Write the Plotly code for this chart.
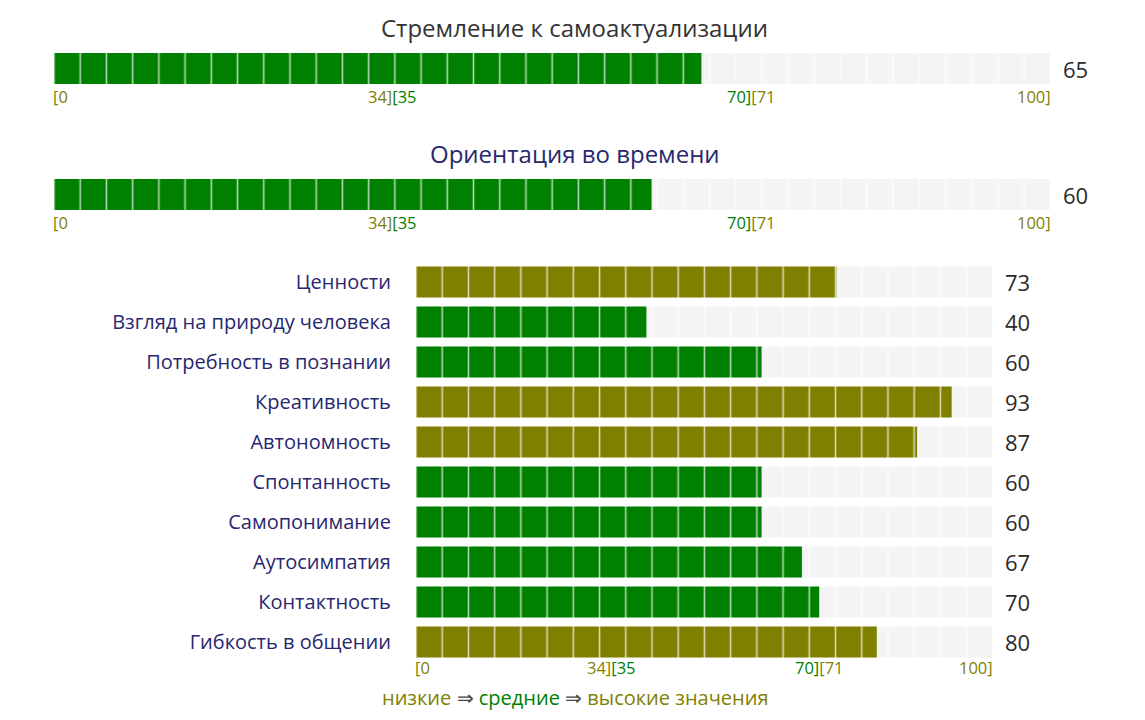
import plotly.graph_objects as go

# data
top_titles = ["Стремление к самоактуализации", "Ориентация во времени"]
top_values = [65, 60]

scale_names = ["Ценности", "Взгляд на природу человека", "Потребность в познании",
               "Креативность", "Автономность", "Спонтанность", "Самопонимание",
               "Аутосимпатия", "Контактность", "Гибкость в общении"]
scale_values = [73, 40, 60, 93, 87, 60, 60, 67, 70, 80]

# level bounds: low [0..34], mid [35..70], high [71..100]
low_max, mid_max, scale_max = 34, 70, 100

# page has an 8px body margin, so the figure is a bit smaller than the window
OFF = 8
W, H = 1145 - 2 * OFF, 720 - 2 * OFF
GREEN = "#008000"
OLIVE = "#808000"
TRACK = "#f4f4f4"
NAVY = "#28286e"
FONT = "Open Sans"
SEG = 26.22  # segment width in px


def px(s):
    # screen column -> paper x
    return (s - OFF) / W


def py(s):
    # screen row -> paper y
    return 1 - (s - OFF) / H


def bar_color(v):
    return GREEN if low_max < v <= mid_max else OLIVE


def seg_pattern():
    return dict(shape="|", size=SEG, solidity=0.06, fgcolor="white", fgopacity=0.7)


def tick_text():
    # (position, anchor, shift in px, text)
    return [
        (0, "left", -3, f"<span style='color:{OLIVE}'>[0</span>"),
        (low_max, "center", 0, f"<span style='color:{OLIVE}'>{low_max}]</span><span style='color:{GREEN}'>[{low_max + 1}</span>"),
        (mid_max, "center", 0, f"<span style='color:{GREEN}'>{mid_max}]</span><span style='color:{OLIVE}'>[{mid_max + 1}</span>"),
        (scale_max, "right", 3, f"<span style='color:{OLIVE}'>{scale_max}]</span>"),
    ]


def x_axis(left, right):
    # start the plot area half a segment before the bar so the pattern lines sit on segment edges
    unit = (right - left) / scale_max
    return dict(range=[-SEG / 2 / unit, scale_max], domain=[px(left - SEG / 2), px(right)],
                showgrid=False, zeroline=False, showticklabels=False, fixedrange=True)


fig = go.Figure()
annotations = []

# two single bars on top
panels = [("x", "y", 53, 84, 28, 96, "#333333"), ("x2", "y2", 179, 210, 155, 222, NAVY)]
for i, (xa, ya, y0, y1, ty, tky, tcol) in enumerate(panels):
    fig.add_trace(go.Bar(x=[scale_max], y=[0], orientation="h", width=1,
                         marker=dict(color=TRACK, line_width=0, pattern=seg_pattern()),
                         xaxis=xa, yaxis=ya, hoverinfo="skip"))
    fig.add_trace(go.Bar(x=[top_values[i]], y=[0], orientation="h", width=1,
                         marker=dict(color=bar_color(top_values[i]), line_width=0, pattern=seg_pattern()),
                         xaxis=xa, yaxis=ya))
    annotations.append(dict(x=px(574.5), y=py(ty), xref="paper", yref="paper", text=top_titles[i],
                            showarrow=False, xanchor="center", yanchor="middle", yshift=1,
                            font=dict(size=24, color=tcol)))
    annotations.append(dict(x=scale_max, y=0, xref=xa, yref=ya, text=str(top_values[i]),
                            showarrow=False, xanchor="left", yanchor="middle", xshift=11,
                            font=dict(size=22, color="#2a2a2a")))
    for tx, anc, sh, txt in tick_text():
        annotations.append(dict(x=tx, y=py(tky), xref=xa, yref="paper", text=txt, xshift=sh,
                                showarrow=False, xanchor=anc, yanchor="middle", font=dict(size=16.5)))

# scales panel
fig.add_trace(go.Bar(x=[scale_max] * len(scale_names), y=scale_names, orientation="h", width=0.775,
                     marker=dict(color=TRACK, line_width=0, pattern=seg_pattern()),
                     xaxis="x3", yaxis="y3", hoverinfo="skip"))
fig.add_trace(go.Bar(x=scale_values, y=scale_names, orientation="h", width=0.775,
                     marker=dict(color=[bar_color(v) for v in scale_values], line_width=0,
                                 pattern=seg_pattern()),
                     xaxis="x3", yaxis="y3"))
for name, v in zip(scale_names, scale_values):
    annotations.append(dict(x=scale_max, y=name, xref="x3", yref="y3", text=str(v),
                            showarrow=False, xanchor="left", yanchor="middle", xshift=11,
                            font=dict(size=22, color="#2a2a2a")))
for tx, anc, sh, txt in tick_text():
    annotations.append(dict(x=tx, y=py(667), xref="x3", yref="paper", text=txt, xshift=sh,
                            showarrow=False, xanchor=anc, yanchor="middle", font=dict(size=16.5)))

annotations.append(dict(
    x=px(575), y=py(697), xref="paper", yref="paper", showarrow=False,
    xanchor="center", yanchor="middle", font=dict(size=20),
    text=(f"<span style='color:{OLIVE}'>низкие</span> <span style='color:#444'>⇒</span> "
          f"<span style='color:{GREEN}'>средние</span> <span style='color:#444'>⇒</span> "
          f"<span style='color:{OLIVE}'>высокие значения</span>")))

hidden_y = dict(range=[-0.5, 0.5], showgrid=False, zeroline=False, showticklabels=False, fixedrange=True)

fig.update_layout(
    width=W, height=H,
    margin=dict(l=0, r=0, t=0, b=0),
    barmode="overlay",
    showlegend=False,
    plot_bgcolor="white",
    paper_bgcolor="white",
    font=dict(family=FONT, color="#444"),
    xaxis=dict(x_axis(54, 1050), anchor="y"),
    yaxis=dict(hidden_y, domain=[py(84), py(53)], anchor="x"),
    xaxis2=dict(x_axis(54, 1050), anchor="y2"),
    yaxis2=dict(hidden_y, domain=[py(210), py(179)], anchor="x2"),
    xaxis3=dict(x_axis(416, 992), anchor="y3"),
    yaxis3=dict(domain=[py(662), py(262)], anchor="x3", autorange="reversed",
                showgrid=False, zeroline=False, ticks="", ticklabelstandoff=11,
                tickfont=dict(size=20, color=NAVY), fixedrange=True),
    annotations=annotations,
)

fig.write_html("out.html")
